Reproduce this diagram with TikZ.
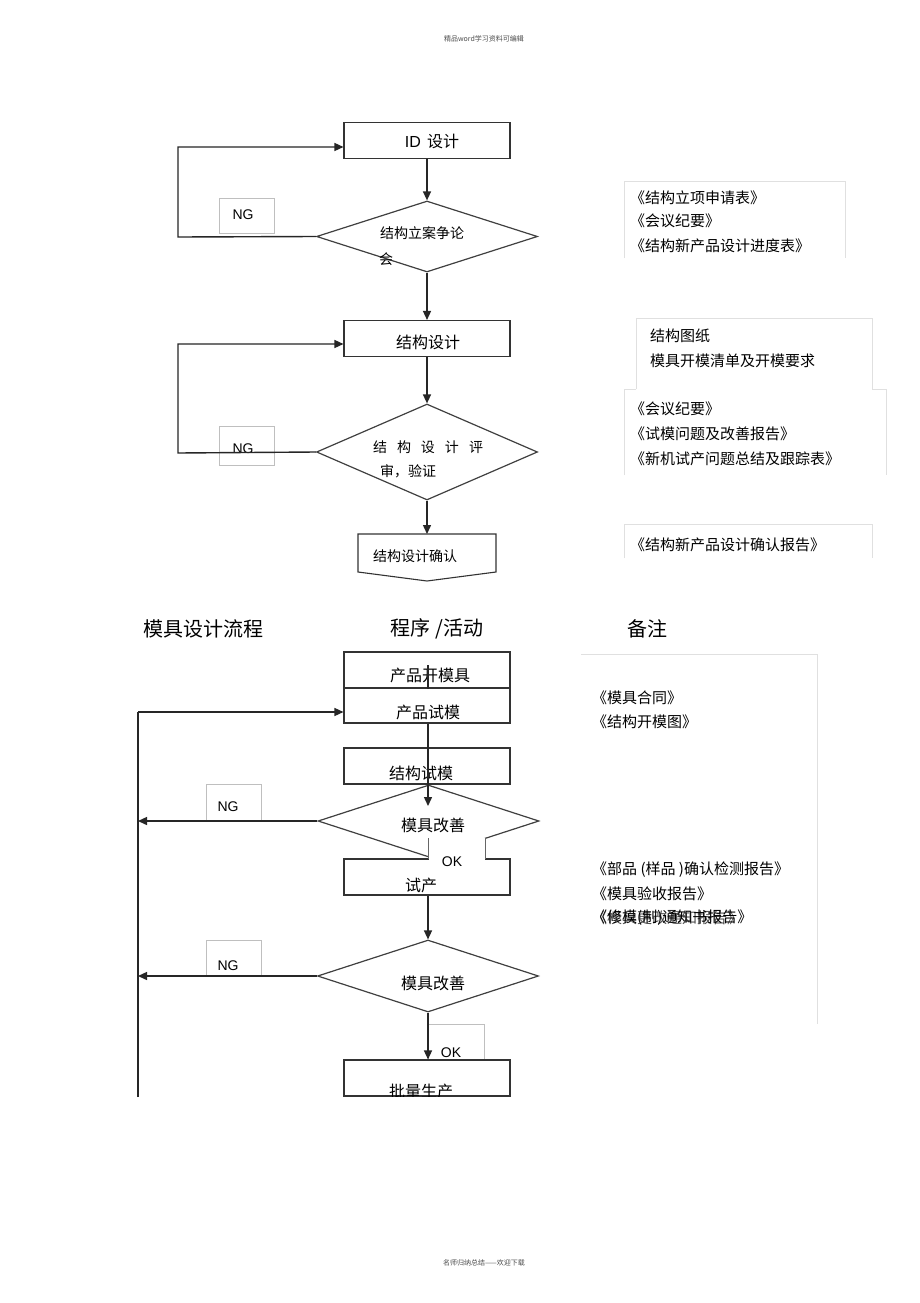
\documentclass[tikz,border=0pt]{standalone}
\usepackage{fontspec}
\setmainfont{Noto Sans CJK SC}
\newfontfamily\arial{Liberation Sans}
\usetikzlibrary{arrows.meta,shapes.geometric}
\begin{document}
\begin{tikzpicture}[x=1pt,y=-1pt,
  ln/.style={draw=black!85, line width=1.4pt},
  arr/.style={ln, -{Triangle[length=9pt,width=8pt]}},
  proc/.style={draw=black!80, line width=1.1pt, minimum width=166pt, minimum height=36pt, inner sep=0pt},
  ptxt/.style={font=\fontsize{16}{18}\selectfont, inner sep=0pt},
  dia/.style={draw=black!75, line width=1.2pt, diamond, inner sep=0pt, minimum width=221pt},
  tag/.style={draw=black!25, line width=0.6pt, fill=white, minimum width=55pt, inner sep=0pt},
  tagtxt/.style={font=\arial\fontsize{14}{16}\selectfont, inner sep=0pt},
  dtxt/.style={font=\fontsize{14}{16}\selectfont, inner sep=0pt},
  note/.style={font=\fontsize{15}{17}\selectfont, inner sep=0pt, anchor=west},
  notebox/.style={draw=black!12, line width=0.7pt},
  head/.style={font=\fontsize{20}{22}\selectfont, inner sep=0pt},
  tiny/.style={font=\fontsize{7}{8}\selectfont, inner sep=0pt, text=black!70}]
\path[use as bounding box, fill=white] (0,0) rectangle (920,1303);

% header / footer
\node[tiny] (hdr) at (484,39) {精品word学习资料可编辑};
\node[tiny] (ftr) at (484,1263) {名师归纳总结——欢迎下载};

% ===== upper flow =====
\node[tag, minimum height=35pt] (ng1) at (246.5,215.5) {};
\node[tagtxt] (ng1t) at (243,215) {NG};
\node[tag, minimum height=39pt] (ng2) at (246.5,445.5) {};

\node[proc] (id) at (427,140.5) {};
\node[ptxt] (idt) at (432,141) {{\arial ID}\, 设计};
\node[dia, minimum height=71pt] (d1) at (427,236.5) {};
\node[dtxt] (d1a) at (422,233) {结构立案争论};
\node[dtxt] (d1b) at (386,259) {会};
\node[proc] (sd) at (427,338.5) {};
\node[ptxt] (sdt) at (428,342) {结构设计};
\node[dia, minimum height=96pt] (d2) at (427,452) {};
\node[dtxt] (d2a) at (428,447) {结\hspace{10pt}构\hspace{10pt}设\hspace{10pt}计\hspace{10pt}评};
\node[dtxt] (d2b) at (408,471) {审，验证};
\node[tagtxt] (ng2t) at (243,449) {NG};

\coordinate (cf) at (427,534);
\draw[draw=black!80, line width=1.1pt] (358,534) -- (496,534) -- (496,572) -- (427,581) -- (358,572) -- cycle;
\node[dtxt] (cft) at (415,556) {结构设计确认};

\draw[arr] (id) -- (d1.north);
\draw[arr] (d1.south) -- (sd.north);
\draw[arr] (sd.south) -- (d2.north);
\draw[arr] (d2.south) -- (cf);

\coordinate (l1a) at (178,237);
\coordinate (l1b) at (178,147);
\draw[arr] (d1.west) -- (l1a) -- (l1b) -- (id.west |- l1b);
\coordinate (l2a) at (178,453);
\coordinate (l2b) at (178,344);
\draw[arr] (d2.west) -- (l2a) -- (l2b) -- (sd.west |- l2b);

% notes upper
\draw[notebox] (624,258) -- (624,181) -- (845,181) -- (845,258);
\node[note] (n1) at (630,198) {《结构立项申请表》};
\node[note] (n2) at (630,221) {《会议纪要》};
\node[note] (n3) at (630,246) {《结构新产品设计进度表》};
\draw[notebox] (636,389) -- (636,318) -- (872,318) -- (872,389);
\node[note] (n4) at (650,336) {结构图纸};
\node[note] (n5) at (650,361) {模具开模清单及开模要求};
\draw[notebox] (624,475) -- (624,389) -- (636,389);
\draw[notebox] (872,389) -- (886,389) -- (886,475);
\node[note] (n6) at (630,409) {《会议纪要》};
\node[note] (n7) at (630,434) {《试模问题及改善报告》};
\node[note] (n8) at (630,459) {《新机试产问题总结及跟踪表》};
\draw[notebox] (624,558) -- (624,524) -- (872,524) -- (872,558);
\node[note] (n9) at (630,545) {《结构新产品设计确认报告》};

% section headings
\node[head] (h1) at (203,629) {模具设计流程};
\node[head] (h2) at (437,629) {程序 /活动};
\node[head] (h3) at (647,629) {备注};

% ===== lower flow =====
\node[tag, minimum height=36pt] (ng3) at (234,802) {};
\node[tag, minimum height=36pt] (ng4) at (234,958) {};
\node[tag, minimum width=56pt, minimum height=36pt] (ok2) at (456,1042) {};

\node[proc] (p1) at (427,670) {};
\node[ptxt] (p1t) at (430,675) {产品开模具};
\node[proc, minimum height=35pt] (p2) at (427,705.5) {};
\node[ptxt] (p2t) at (428,712) {产品试模};
\node[proc] (p3) at (427,766) {};
\node[ptxt] (p3t) at (421,773) {结构试模};
\node[proc] (p4) at (427,877) {};
\node[ptxt] (p4t) at (421,885) {试产};
\node[dia, minimum height=72pt] (d3) at (428.5,821) {};
\node[dia, minimum height=72pt] (d4) at (428,976) {};
\node[ptxt] (d3t) at (433,825) {模具改善};
\node[ptxt] (d4t) at (433,983) {模具改善};
\node[proc] (p5) at (427,1078) {};
\begin{scope}
\clip (344,1060) rectangle (510,1096);
\node[ptxt] (p5t) at (421,1091) {批量生产};
\end{scope}

% OK tag over diamond 3 / trial box
\fill[white] (428.6,838) rectangle (485,859.5);
\node[inner sep=0pt] (ok1) at (456.5,848) {};
\draw[draw=black!60, line width=0.8pt] (428.6,838) -- (428.6,859) (485,838) -- (485,859);
\node[tagtxt] (ok1t) at (452,862) {OK};
\node[tagtxt] (ng3t) at (228,807) {NG};
\node[tagtxt] (ng4t) at (228,966) {NG};
\node[tagtxt] (ok2t) at (451,1053) {OK};

% connectors lower
\coordinate (s0) at (428,665);
\coordinate (d3in) at (428,806);
\draw[ln] (s0) -- (p1.south -| s0);
\draw[arr] (p2.south -| s0) -- (d3in);
\draw[arr] (p4.south -| d4.north) -- (d4.north);
\draw[arr] (d4.south) -- (p5.north -| d4.south);
\coordinate (lb) at (138,1097);
\coordinate (lt) at (138,712);
\draw[ln] (lb) -- (lt);
\draw[arr] (lt) -- (p2.west |- lt);
\draw[arr] (d3.west) -- (d3.west -| lt);
\draw[arr] (d4.west) -- (d4.west -| lt);

% notes lower
\draw[notebox] (581,654) -- (817,654) -- (817,1024);
\node[note] (m1) at (592,698) {《模具合同》};
\node[note] (m2) at (592,722) {《结构开模图》};
\node[note] (m3) at (592,870) {《部品 (样品 )确认检测报告》};
\node[note] (m4) at (592,894) {《模具验收报告》};
\node[note] (m5) at (592,918) {《修模(制)通知书报告》};
\node[note, opacity=0.7] (m6) at (592,918) {《模具更改通知报告》};
\end{tikzpicture}
\end{document}
